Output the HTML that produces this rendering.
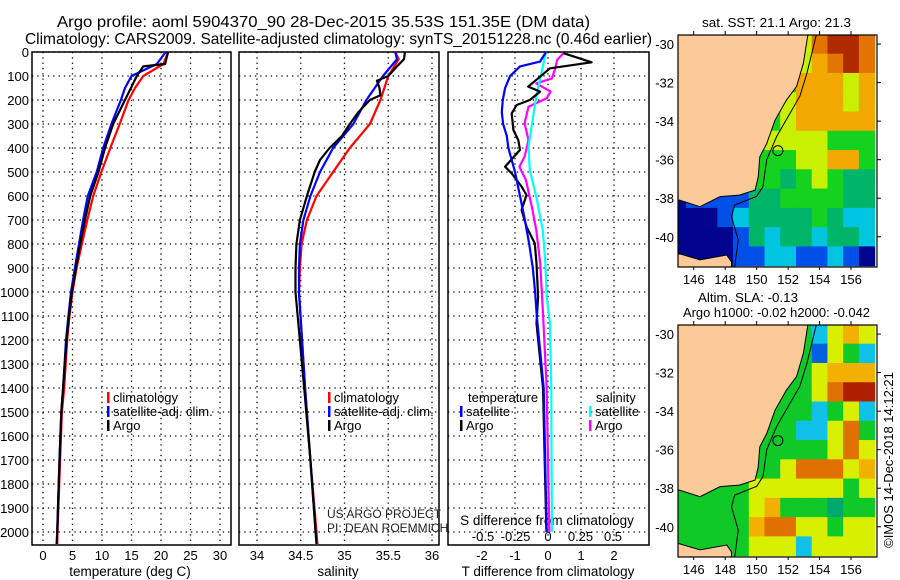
<!DOCTYPE html>
<html><head><meta charset="utf-8"><style>
html,body{margin:0;padding:0;background:#fff;}
svg{display:block;font-family:"Liberation Sans",sans-serif;}
</style></head><body>
<svg id="fig" width="900" height="580" viewBox="0 0 900 580" xmlns="http://www.w3.org/2000/svg">
<rect x="0" y="0" width="900" height="580" fill="#fff"/>
<text x="57" y="27" font-size="16" textLength="533" lengthAdjust="spacingAndGlyphs">Argo profile: aoml 5904370_90 28-Dec-2015 35.53S 151.35E (DM data)</text>
<text x="25" y="44" font-size="16" textLength="627" lengthAdjust="spacingAndGlyphs">Climatology: CARS2009. Satellite-adjusted climatology: synTS_20151228.nc (0.46d earlier)</text>
<g id="g"></g>
</svg>
<script>
// ---------- profile data ----------
const tDepthArgo = [0,50,60,100,200,300,400,500,600,700,800,900,1000,1100,1200,1400,1500,1700,2000,2050];
const tArgo      = [21.2,20.7,17.0,15.9,13.9,11.9,10.5,9.4,8.0,7.1,6.3,5.6,4.9,4.4,4.0,3.4,3.1,2.8,2.4,2.3];
const tDepthSat  = [0,50,100,150,200,300,400,500,600,700,800,900,1000,1100,1200,1400,1500,1700,2000];
const tSat       = [20.8,19.3,15.0,13.9,13.2,11.6,10.2,9.1,7.6,6.8,6.1,5.4,4.75,4.3,3.9,3.4,3.1,2.8,2.4];
const tDepthClim = [0,50,100,150,200,300,400,500,600,700,800,900,1000,1100,1200,1400,1500,1700,2000,2050];
const tClim      = [21.2,20.4,17.0,15.6,14.5,13.0,11.4,9.9,8.5,7.5,6.6,5.7,5.0,4.5,4.1,3.6,3.2,2.9,2.45,2.4];

const sDepthArgo = [0,30,60,100,120,150,180,200,250,300,350,400,450,500,600,700,800,900,1000,1400,1700,2000,2050];
const sArgo      = [35.69,35.68,35.6,35.5,35.37,35.4,35.41,35.29,35.16,35.06,34.97,34.83,34.72,34.66,34.57,34.49,34.45,34.44,34.44,34.54,34.61,34.67,34.68];
const sDepthSat  = [0,30,100,200,300,400,500,600,700,800,900,1000,1400,1700,2000];
const sSat       = [35.58,35.6,35.44,35.25,35.10,34.87,34.72,34.61,34.53,34.49,34.48,34.48,34.55,34.61,34.67];
const sDepthClim = [0,30,100,200,300,400,500,600,700,800,900,1000,1400,1700,2000,2050];
const sClim      = [35.58,35.62,35.5,35.41,35.29,35.06,34.87,34.68,34.57,34.51,34.49,34.48,34.55,34.61,34.68,34.69];

const dtDepthSat = [0,40,60,100,150,200,250,300,350,400,450,500,600,700,800,900,1000,1100,1400,2000];
const dtSat      = [-0.06,-0.24,-0.85,-1.15,-1.3,-1.37,-1.4,-1.36,-1.25,-1.2,-1.1,-1.0,-0.85,-0.7,-0.57,-0.46,-0.39,-0.34,-0.13,-0.04];
const dtDepthArgo= [5,43,68,103,144,165,200,221,256,325,367,408,478,506,561,596,658,728,797,881,1019,1131,1400,2000];
const dtArgo     = [0.47,1.32,0.06,-0.24,-0.6,-0.24,-0.55,-0.95,-1.1,-1.05,-0.9,-0.85,-1.3,-1.1,-0.8,-0.65,-0.8,-0.65,-0.4,-0.35,-0.3,-0.35,-0.15,-0.05];
const dsDepthSat = [0,186,394,492,603,742,881,1019,1131,1400,2000];
const dsSat      = [-0.015,-0.09,-0.15,-0.14,-0.09,-0.04,-0.02,-0.01,0.015,0.025,0.03];
const dsDepthArgo= [5,33,61,110,131,165,193,228,297,367,436,478,533,644,742,881,1019,1131,1400,2000];
const dsArgo     = [0.12,0.07,0.06,0.03,-0.09,0.02,-0.01,-0.15,-0.18,-0.15,-0.18,-0.22,-0.17,-0.125,-0.09,-0.06,-0.045,-0.035,-0.01,0.01];

const depthTicks = [0,100,200,300,400,500,600,700,800,900,1000,1100,1200,1300,1400,1500,1600,1700,1800,1900,2000];
const tempTicks = [0,5,10,15,20,25,30];
const salTicks = [34,34.5,35,35.5,36];
const tdTicks = [-2,-1,0,1,2];
const sdTicks = [-0.5,-0.25,0,0.25,0.5];

// ---------- map data (1-degree cells, lon 145..157, lat -30..-41) ----------
const sstRows = ["ggggggggyOrrO","ggggggggyoOrO","ggggggggoooyo","gggggggyoooyo","gggggggyooooo","ggggggyyyyggg","ggggggggyyoog","gggggggtgygtt","Bbbbbttggggtt","BBBbcttttgtcc","BBBBbtcttcttc","BBBBbbccbbcbB"];
const slaRows = ["gggggggggcyoy","gggggggggbygc","gggggggggyooo","gggggggggyOrr","gggggggggcgyc","ggggggggccyOg","ggggggggggyOy","gggggggyOOOyo","gggggyyyyyygy","gggggyogggtgg","gggggoOOyygyy","gggggyyycyyyy"];
const sstColors = {B:"#00058f",b:"#0050e8",c:"#00c4e0",t:"#00b468",g:"#14d21e",y:"#c8f000",o:"#f2a800",O:"#e47400",r:"#b02a00"};
const slaColors = {b:"#0060e0",c:"#10c0e8",t:"#00a870",g:"#10c828",y:"#d8f000",o:"#f2b000",O:"#e07000",r:"#b01e00"};
const coastLon = [153.28,152.97,152.54,151.9,151.17,150.64,150.2,150.1,149.9,148.9,147.67,146.4,145.1];
const coastLat = [-29.4,-31.0,-32.2,-32.9,-33.95,-35.16,-35.85,-36.9,-37.58,-37.84,-37.92,-38.44,-38.1];
const tasLon = [145,146.4,148.1,148.4,148.4,145];
const tasLat = [-40.86,-41.2,-40.95,-41.3,-41.6,-41.6];
const isoLon = [153.8,153.2,152.75,151.27,150.64,150.4,150.0,148.6,148.4,148.83,148.6];
const isoLat = [-29.5,-31.5,-32.7,-34.8,-36.0,-37.4,-37.9,-38.36,-38.96,-40.17,-41.6];
const argoLon = 151.35, argoLat = -35.53;
const mapLonTicks = [146,148,150,152,154,156];
const mapLatTicks = [-30,-32,-34,-36,-38,-40];

const NS="http://www.w3.org/2000/svg";
const G=document.getElementById('g');
function mk(tag,attrs,parent){const e=document.createElementNS(NS,tag);for(const k in attrs)e.setAttribute(k,attrs[k]);(parent||G).appendChild(e);return e;}
function txt(x,y,s,size,anchor,parent){const e=mk('text',{x:x,y:y,'font-size':size,'text-anchor':anchor||'middle'},parent);e.textContent=s;return e;}

const PT=52, PB=545;
const yD = d => PT + d*0.24;
const panels = [
  {name:'temperature',x0:32,x1:231,fx:v=>43+v*5.9},
  {name:'salinity',x0:239,x1:439,fx:v=>257+(v-34)*87.5},
  {name:'difference',x0:448,x1:649,fx:v=>548+v*33}
];
const fS = v => 548 + v*130;

panels.forEach((p,i)=>{
  const g=mk('g',{});
  
  
  mk('rect',{x:p.x0,y:PT,width:p.x1-p.x0,height:PB-PT,fill:'#fff',stroke:'#000','stroke-width':1.5},g);
  depthTicks.forEach(d=>{
    const l=mk('line',{x1:p.x0,x2:p.x1,y1:yD(d),y2:yD(d),stroke:'#000','stroke-dasharray':'1.3,4','stroke-width':1.3},g);
    
    
  });
  const ticks = i==0?tempTicks:(i==1?salTicks:tdTicks);
  ticks.forEach(v=>{
    const x=p.fx(v);
    const l=mk('line',{x1:x,x2:x,y1:PT,y2:PB,stroke:'#000','stroke-dasharray':'1.3,4','stroke-width':1.3},g);
    
    
    const t=txt(x,560,String(v),13,'middle',g);
    
    
  });
});
depthTicks.forEach(d=>{
  const t=txt(29,yD(d)+5,String(d),13,'end');
  
  
});
const xt=[['temperature (deg C)',130],['salinity',338],['T difference from climatology',548]];
xt.forEach(a=>{const t=txt(a[1],576,a[0],13.5,'middle');
  
  });
sdTicks.forEach(v=>{const t=txt(fS(v),541,String(v),13,'middle');
  
  });
{const t=txt(547,525,'S difference from climatology',13.5,'middle');
 
 }

function line(ds,vs,fx,color,name){
  const pts=ds.map((d,i)=>fx(vs[i]).toFixed(1)+','+yD(d).toFixed(1)).join(' ');
  const e=mk('polyline',{points:pts,fill:'none',stroke:color,'stroke-width':2.2,'stroke-linejoin':'round'});
  
  
}
line(tDepthClim,tClim,panels[0].fx,'#f00','temperature-climatology-line');
line(tDepthSat,tSat,panels[0].fx,'#00f','temperature-satellite-line');
line(tDepthArgo,tArgo,panels[0].fx,'#000','temperature-argo-line');
line(sDepthClim,sClim,panels[1].fx,'#f00','salinity-climatology-line');
line(sDepthSat,sSat,panels[1].fx,'#00f','salinity-satellite-line');
line(sDepthArgo,sArgo,panels[1].fx,'#000','salinity-argo-line');
line(dsDepthArgo,dsArgo,fS,'#f0f','s-diff-argo-line');
line(dsDepthSat,dsSat,fS,'#0ff','s-diff-satellite-line');
line(dtDepthArgo,dtArgo,panels[2].fx,'#000','t-diff-argo-line');
line(dtDepthSat,dtSat,panels[2].fx,'#00f','t-diff-satellite-line');

function legend(x,y,color,label,name){
  const g=mk('g',{});
  
  
  if(color) mk('rect',{x:x,y:y-10,width:2.5,height:11,fill:color},g);
  txt(x+6,y,label,13,'start',g);
}
legend(107,402,'#f00','climatology','legend-climatology');
legend(107,416,'#00f','satellite-adj. clim.','legend-satellite');
legend(107,430,'#000','Argo','legend-argo');
legend(328,402,'#f00','climatology','legend2-climatology');
legend(328,416,'#00f','satellite-adj. clim.','legend2-satellite');
legend(328,430,'#000','Argo','legend2-argo');
legend(462,402,null,'temperature','legend-temperature-heading');
legend(460,416,'#00f','satellite','legend-t-satellite');
legend(460,430,'#000','Argo','legend-t-argo');
legend(590,402,null,'salinity','legend-salinity-heading');
legend(589,416,'#0ff','satellite','legend-s-satellite');
legend(589,430,'#f0f','Argo','legend-s-argo');
{const t=txt(327,518,'US ARGO PROJECT',12,'start');t.setAttribute('fill','#222');
 
 const t2=txt(327,532,'PI: DEAN ROEMMICH',12,'start');t2.setAttribute('fill','#222');
 }

// ---------- maps ----------
function drawMap(top,rows,colors,name){
  const L=678,R=877,T=top,B=top+232;
  const fx=lon=>L+(lon-145)*15.73;
  const fy=lat=>T+(-29.53-lat)*19.27;
  const g=mk('g',{});
  
  
  const cp=mk('clipPath',{id:'clip'+name},g);
  mk('rect',{x:L,y:T,width:R-L,height:B-T},cp);
  const inner=mk('g',{'clip-path':'url(#clip'+name+')'},g);
  rows.forEach((row,r)=>{
    const lat=-30-r;
    for(let c=0;c<row.length;c++){
      const lon=145+c;
      const e=mk('rect',{x:fx(lon-0.5),y:fy(lat+0.5),width:15.73+0.6,height:19.27+0.6,fill:colors[row[c]]},inner);
      
      
    }
  });
  const cpts=coastLon.map((lo,i)=>fx(lo)+','+fy(coastLat[i]));
  cpts.push(fx(144)+','+fy(-38.1),fx(144)+','+fy(-29));
  const land=mk('polygon',{points:cpts.join(' '),fill:'#fcc998',stroke:'#000','stroke-width':1},inner);
  
  
  const tas=mk('polygon',{points:tasLon.map((lo,i)=>fx(lo)+','+fy(tasLat[i])).join(' '),fill:'#fcc998',stroke:'#000','stroke-width':1},inner);
  
  
  const iso=mk('polyline',{points:isoLon.map((lo,i)=>fx(lo)+','+fy(isoLat[i])).join(' '),fill:'none',stroke:'#000','stroke-width':1},inner);
  
  
  const ci=mk('circle',{cx:fx(argoLon),cy:fy(argoLat),r:5,fill:'none',stroke:'#000','stroke-width':1},g);
  
  
  mk('rect',{x:L,y:T,width:R-L,height:B-T,fill:'none',stroke:'#000','stroke-width':1.2},g);
  mapLonTicks.forEach(lo=>{
    mk('line',{x1:fx(lo),x2:fx(lo),y1:T,y2:T-4,stroke:'#000'},g);
    mk('line',{x1:fx(lo),x2:fx(lo),y1:B,y2:B+3,stroke:'#000'},g);
    const t=txt(fx(lo),B+17,String(lo),13,'middle',g);
    
    
  });
  mapLatTicks.forEach(la=>{
    mk('line',{x1:R,x2:R+4,y1:fy(la),y2:fy(la),stroke:'#000'},g);
    const t=txt(L-4,fy(la)+5,String(la),13,'end',g);
    
    
  });
}
drawMap(35,sstRows,sstColors,'sst-map');
drawMap(325,slaRows,slaColors,'sla-map');
{const t=txt(702,27,'sat. SST: 21.1 Argo: 21.3',13,'start');t.setAttribute('textLength','149');t.setAttribute('lengthAdjust','spacingAndGlyphs');
 
 const t2=txt(698,302,'Altim. SLA: -0.13',13,'start');t2.setAttribute('textLength','100');t2.setAttribute('lengthAdjust','spacingAndGlyphs');
 
 const t3=txt(683,317,'Argo h1000: -0.02 h2000: -0.042',13,'start');t3.setAttribute('textLength','187');t3.setAttribute('lengthAdjust','spacingAndGlyphs');
 
 const t4=txt(0,0,'\u00A9IMOS 14-Dec-2018 14:12:21',13,'middle');t4.setAttribute('transform','translate(893,460) rotate(-90)');
 }
</script>
</body></html>
